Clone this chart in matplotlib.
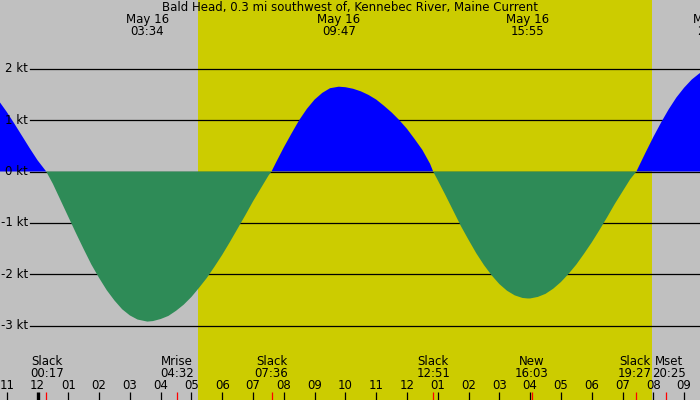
import matplotlib
matplotlib.use("Agg")
import matplotlib.pyplot as plt
import matplotlib.transforms as mtransforms

# ---- data ----
title = "Bald Head, 0.3 mi southwest of, Kennebec River, Maine Current"

# current speed (kt) vs hours since midnight May 16
curve_hours = [-1.5, -1.25, -1.0, -0.75, -0.5, -0.25, 0.0, 0.283,
               0.5, 0.75, 1.0, 1.25, 1.5, 1.75, 2.0, 2.25, 2.5, 2.75, 3.0, 3.25, 3.567,
               3.75, 4.0, 4.25, 4.5, 4.75, 5.0, 5.25, 5.5, 5.75, 6.0, 6.25, 6.5, 6.75, 7.0, 7.25, 7.5, 7.6,
               7.75, 8.0, 8.25, 8.5, 8.75, 9.0, 9.25, 9.5, 9.783,
               10.0, 10.25, 10.5, 10.75, 11.0, 11.25, 11.5, 11.75, 12.0, 12.25, 12.5, 12.75, 12.85,
               13.0, 13.25, 13.5, 13.75, 14.0, 14.25, 14.5, 14.75, 15.0, 15.25, 15.5, 15.75, 15.917,
               16.0, 16.25, 16.5, 16.75, 17.0, 17.25, 17.5, 17.75, 18.0, 18.25, 18.5, 18.75, 19.0, 19.25, 19.45,
               19.75, 20.0, 20.25, 20.5, 20.75, 21.0, 21.25, 21.5, 21.75, 22.0]
curve_speed = [1.56, 1.37, 1.16, 0.93, 0.69, 0.45, 0.22, 0.0,
               -0.24, -0.56, -0.88, -1.20, -1.51, -1.81, -2.07, -2.31, -2.51, -2.68, -2.80, -2.88, -2.92,
               -2.91, -2.87, -2.81, -2.71, -2.59, -2.44, -2.26, -2.07, -1.85, -1.62, -1.37, -1.11, -0.85, -0.58, -0.33, -0.08, 0.0,
               0.18, 0.47, 0.74, 1.00, 1.22, 1.40, 1.53, 1.62, 1.65,
               1.64, 1.61, 1.56, 1.49, 1.40, 1.28, 1.15, 1.00, 0.83, 0.63, 0.42, 0.15, 0.0,
               -0.17, -0.46, -0.76, -1.06, -1.33, -1.59, -1.82, -2.02, -2.19, -2.32, -2.41, -2.46, -2.47,
               -2.47, -2.44, -2.38, -2.28, -2.15, -1.99, -1.81, -1.60, -1.38, -1.14, -0.89, -0.63, -0.39, -0.15, 0.0,
               0.37, 0.67, 0.95, 1.21, 1.44, 1.63, 1.79, 1.91, 1.98, 2.0]
assert len(curve_hours) == len(curve_speed)

max_times = ["03:34", "09:47", "15:55", "21:59"]
max_dates = ["May 16", "May 16", "May 16", "May 16"]

event_names = ["Slack", "Mrise", "Slack", "Slack", "New", "Slack", "Mset"]
event_times = ["00:17", "04:32", "07:36", "12:51", "16:03", "19:27", "20:25"]

sunrise = "05:13"
sunset = "19:57"

level_values = [2, 1, 0, -1, -2, -3]
level_labels = ["2 kt", "1 kt", "0 kt", "-1 kt", "-2 kt", "-3 kt"]

tick_hours = list(range(-1, 22))


def to_h(s):
    h, m = s.split(":")
    return int(h) + int(m) / 60.0


# ---- figure ----
W, H = 700, 400
GRAY = "#C0C0C0"
YELLOW = "#CCCC00"
BLUE = "#0000FF"
GREEN = "#2E8B57"
FS = 8.5

fig = plt.figure(figsize=(7, 4), dpi=100, facecolor=GRAY)
ax = fig.add_axes([0, 0, 1, 1])
ax.set_facecolor(GRAY)
ax.axis("off")

px_per_h = 30.79
x0 = 37.5          # pixel of midnight
zero_px = 171.5    # pixel of 0 kt
px_per_kt = 51.4
ax.set_xlim(-x0 / px_per_h, (W - x0) / px_per_h)
ax.set_ylim(-(H - zero_px) / px_per_kt, zero_px / px_per_kt)

trans = mtransforms.blended_transform_factory(ax.transData, ax.transAxes)
trans_lvl = mtransforms.blended_transform_factory(ax.transAxes, ax.transData)


def yf(py):
    return 1 - py / H


# daylight
ax.axvspan(to_h(sunrise), to_h(sunset), color=YELLOW, zorder=0, lw=0)

# level lines and labels
for v, lab in zip(level_values, level_labels):
    ax.axhline(v, xmin=30 / W, xmax=1, color="black", lw=0.9, zorder=1)
    ax.text(28 / W, v, lab, transform=trans_lvl,
            ha="right", va="center", fontsize=FS, color="black", zorder=5)

# current fill
ax.fill_between(curve_hours, 0, curve_speed, where=[s >= 0 for s in curve_speed],
                interpolate=True, color=BLUE, lw=0, zorder=2)
ax.fill_between(curve_hours, 0, curve_speed, where=[s <= 0 for s in curve_speed],
                interpolate=True, color=GREEN, lw=0, zorder=2)

# title
fig.text(0.5, yf(8), title, ha="center", va="center", fontsize=FS)

# max labels
for d, t in zip(max_dates, max_times):
    h = to_h(t)
    ax.text(h, yf(20), d, transform=trans, ha="center", va="center", fontsize=FS)
    ax.text(h, yf(31.5), t, transform=trans, ha="center", va="center", fontsize=FS)

# event labels (small pixel nudges where neighbouring labels would collide) and red ticks
nudge_px = [1, 0, 0, 0, 0, -1.5, 2.5]
for n, t, dx in zip(event_names, event_times, nudge_px):
    h = to_h(t)
    off = mtransforms.offset_copy(trans, fig=fig, x=dx, y=0, units="dots")
    ax.text(h, yf(361.5), n, transform=off, ha="center", va="center", fontsize=FS)
    ax.text(h, yf(373.5), t, transform=off, ha="center", va="center", fontsize=FS)
    ax.plot([h, h], [0, 8.5 / H], transform=trans, color="red", lw=0.9, zorder=4,
            solid_capstyle="butt")

# hour ticks
for hr in tick_hours:
    lab = "%02d" % ((hr % 12) or 12)
    ax.text(hr, yf(385.5), lab, transform=trans, ha="center", va="center", fontsize=FS)
    lw = 2.4 if hr == 0 else 0.9
    ax.plot([hr, hr], [0, 8.5 / H], transform=trans, color="black", lw=lw, zorder=3,
            solid_capstyle="butt")

fig.savefig("out.png", dpi=100, facecolor=GRAY)
